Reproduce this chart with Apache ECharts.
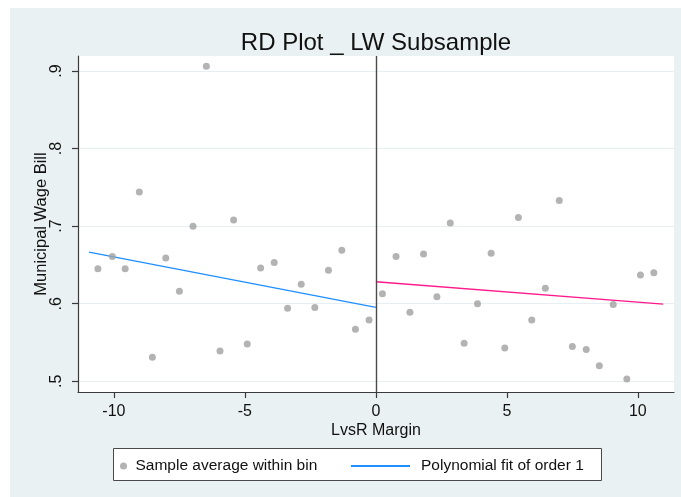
<!DOCTYPE html>
<html>
<head>
<meta charset="utf-8">
<script src="https://cdn.jsdelivr.net/npm/echarts@6/dist/echarts.min.js"></script>
<style>
html,body{margin:0;padding:0;background:#fff;}
#chart{width:681px;height:497px;}
</style>
</head>
<body>
<div id="chart"></div>
<script>
// Bin midpoints and sample averages (left of cutoff)
var binXLeft = [-10.61,-10.06,-9.57,-9.03,-8.53,-8.02,-7.50,-6.98,-6.47,-5.95,-5.43,-4.91,-4.40,-3.88,-3.37,-2.85,-2.33,-1.81,-1.30,-0.78,-0.26];
var binYLeft = [0.645,0.661,0.645,0.744,0.531,0.659,0.616,0.700,0.906,0.539,0.708,0.548,0.646,0.653,0.594,0.625,0.595,0.643,0.669,0.567,0.579];
// Right of cutoff
var binXRight = [0.25,0.77,1.30,1.82,2.33,2.84,3.37,3.88,4.40,4.92,5.44,5.95,6.47,7.00,7.50,8.03,8.53,9.06,9.58,10.10,10.61];
var binYRight = [0.613,0.661,0.589,0.664,0.609,0.704,0.549,0.600,0.665,0.543,0.711,0.579,0.620,0.733,0.545,0.541,0.520,0.599,0.503,0.637,0.640];
// Polynomial fit (order 1) endpoints
var fitLeftX = [-10.95, 0];
var fitLeftY = [0.6666, 0.5954];
var fitRightX = [0, 10.97];
var fitRightY = [0.6283, 0.5996];
// Axis ticks
var xTicks = [-10, -5, 0, 5, 10];
var yTicks = [0.5, 0.6, 0.7, 0.8, 0.9];
var yTickLabels = ['.5', '.6', '.7', '.8', '.9'];
var cutoff = 0;

function zip(xs, ys){ return xs.map(function(x,i){ return [x, ys[i]]; }); }

var FONT = '"Liberation Sans", Arial, sans-serif';
var chart = echarts.init(document.getElementById('chart'), null, {renderer:'canvas'});

var option = {
  animation: false,
  backgroundColor: '#ffffff',
  textStyle: {fontFamily: FONT},
  graphic: [
    {type:'rect', z:-10, silent:true, shape:{x:10, y:8, width:671, height:489}, style:{fill:'#EAF1F3'}},
    {type:'rect', z:-9, silent:true, shape:{x:78, y:56, width:596, height:336}, style:{fill:'#ffffff'}},
    {type:'rect', z:-5, silent:true, shape:{x:113.5, y:448.5, width:488, height:32}, style:{fill:'#ffffff', stroke:'#4a4a4a', lineWidth:1}}
  ],
  title: {
    text: 'RD Plot _ LW Subsample',
    left: 376, top: 31, padding: 0, textAlign: 'center',
    textStyle: {fontFamily: FONT, fontSize: 24, fontWeight: 'normal', color: '#111'}
  },
  grid: {left: 78, top: 56, right: 7, bottom: 105, containLabel: false},
  xAxis: {
    type: 'value', min: -11.37, max: 11.38,
    name: 'LvsR Margin', nameLocation: 'middle', nameGap: 31, nameMoveOverlap: false,
    nameTextStyle: {fontFamily: FONT, fontSize: 16, color: '#111'},
    axisLine: {show: true, onZero: false, lineStyle: {color: '#3a3a3a', width: 1.2}},
    axisTick: {show: true, length: 6, customValues: xTicks, lineStyle: {color: '#3a3a3a', width: 1.2}},
    axisLabel: {customValues: xTicks, margin: 12, fontFamily: FONT, fontSize: 16, color: '#111', formatter: function(v){ return String(v); }},
    splitLine: {show: false}
  },
  yAxis: {
    type: 'value', min: 0.4862, max: 0.9193,
    name: 'Municipal Wage Bill', nameLocation: 'middle', nameGap: 28, nameRotate: 90, nameMoveOverlap: false,
    nameTextStyle: {fontFamily: FONT, fontSize: 16.5, color: '#111'},
    axisLine: {show: true, onZero: false, lineStyle: {color: '#3a3a3a', width: 1.2}},
    axisTick: {show: true, length: 6, customValues: yTicks, lineStyle: {color: '#3a3a3a', width: 1.2}},
    axisLabel: {customValues: yTicks, rotate: 90, margin: 13, fontFamily: FONT, fontSize: 16, color: '#111',
      formatter: function(v){ var i = yTicks.findIndex(function(t){ return Math.abs(t - v) < 1e-9; }); return i >= 0 ? yTickLabels[i] : ''; }},
    splitLine: {show: true, lineStyle: {color: '#E6EFF1', width: 1}}
  },
  legend: [
    {
      left: 115, top: 453, itemWidth: 14, itemHeight: 7, itemGap: 0,
      data: [{name: 'Sample average within bin', icon: 'circle'}],
      textStyle: {fontFamily: FONT, fontSize: 15.5, color: '#111'},
      selectedMode: false
    },
    {
      left: 346, top: 453, itemWidth: 59, itemHeight: 2, itemGap: 0,
      data: [{name: 'Polynomial fit of order 1', icon: 'rect'}],
      textStyle: {fontFamily: FONT, fontSize: 15.5, color: '#111', padding: [0,0,0,6]},
      selectedMode: false
    }
  ],
  series: [
    {
      name: 'Sample average within bin', type: 'scatter', symbol: 'circle', symbolSize: 7,
      itemStyle: {color: '#A0A0A0'},
      data: zip(binXLeft, binYLeft).concat(zip(binXRight, binYRight)),
      z: 5
    },
    {
      name: 'Polynomial fit of order 1', type: 'line', symbol: 'none', showSymbol: false,
      lineStyle: {color: '#1E8FFF', width: 1.3}, itemStyle: {color: '#1E8FFF'},
      data: zip(fitLeftX, fitLeftY), z: 4,
      markLine: {
        silent: true, symbol: 'none', label: {show: false},
        lineStyle: {color: '#4a4a4a', width: 1.4, type: 'solid'},
        data: [{xAxis: cutoff}]
      }
    },
    {
      name: 'Fit right', type: 'line', symbol: 'none', showSymbol: false,
      lineStyle: {color: '#FF1A8C', width: 1.3}, itemStyle: {color: '#FF1A8C'},
      data: zip(fitRightX, fitRightY), z: 4
    }
  ]
};
chart.setOption(option);
</script>
</body>
</html>
